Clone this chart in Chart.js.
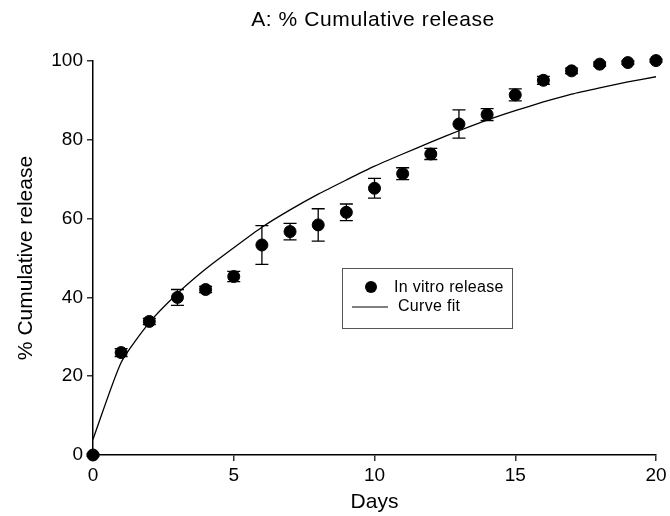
<!DOCTYPE html>
<html>
<head>
<meta charset="utf-8">
<script src="https://cdn.jsdelivr.net/npm/chart.js@4.4.0/dist/chart.umd.min.js"></script>
<style>
  html, body { margin: 0; padding: 0; background: #fff; }
  #wrap { width: 670px; height: 516px; position: relative; }
</style>
</head>
<body>
<div id="wrap"><canvas id="releaseChart"></canvas></div>
<script>
// --- data ---
const days = [0, 1, 2, 3, 4, 5, 6, 7, 8, 9, 10, 11, 12, 13, 14, 15, 16, 17, 18, 19, 20];
const releaseMean = [0, 26.0, 33.9, 40.0, 42.0, 45.3, 53.3, 56.7, 58.4, 61.6, 67.7, 71.4, 76.4, 84.0, 86.4, 91.4, 95.1, 97.5, 99.2, 99.6, 100.1];
const releaseErr = [0.3, 1.0, 0.8, 2.0, 0.8, 1.3, 4.9, 2.1, 4.1, 2.1, 2.5, 1.5, 1.4, 3.6, 1.5, 1.5, 1.0, 0.7, 0.5, 0.4, 0.3];
const curveFit = [4.0, 23.5, 33.6, 41.0, 47.2, 52.6, 57.8, 62.2, 66.2, 69.8, 73.3, 76.4, 79.4, 82.3, 85.0, 87.4, 89.6, 91.6, 93.2, 94.7, 96.0];
const xTicks = [0, 5, 10, 15, 20];
const yTicks = [0, 20, 40, 60, 80, 100];

const FONT = 'Liberation Sans, Arial, Helvetica, sans-serif';

// error bars drawn through the chart scales
const errorBars = {
    id: 'errorBars',
    afterDatasetsDraw(chart) {
        const { ctx, scales: { x, y } } = chart;
        ctx.save();
        ctx.strokeStyle = '#000';
        ctx.lineWidth = 1.3;
        days.forEach((d, i) => {
            const px = x.getPixelForValue(d);
            const top = y.getPixelForValue(releaseMean[i] + releaseErr[i]);
            const bot = y.getPixelForValue(releaseMean[i] - releaseErr[i]);
            ctx.beginPath();
            ctx.moveTo(px, top); ctx.lineTo(px, bot);
            ctx.moveTo(px - 6.5, top); ctx.lineTo(px + 6.5, top);
            ctx.moveTo(px - 6.5, bot); ctx.lineTo(px + 6.5, bot);
            ctx.stroke();
        });
        ctx.restore();
    }
};

// title + boxed legend like the original figure
const decorations = {
    id: 'decorations',
    afterDraw(chart) {
        const { ctx } = chart;
        ctx.save();
        ctx.fillStyle = '#000';
        ctx.font = '21px ' + FONT;
        ctx.letterSpacing = '0.6px';
        ctx.textAlign = 'center';
        ctx.textBaseline = 'middle';
        ctx.fillText('A: % Cumulative release', 373, 20);

        // legend box
        ctx.strokeStyle = '#555';
        ctx.lineWidth = 1;
        ctx.strokeRect(342.5, 268.5, 170, 60);
        ctx.beginPath();
        ctx.arc(371, 287, 6, 0, Math.PI * 2);
        ctx.fill();
        ctx.strokeStyle = '#000';
        ctx.lineWidth = 1.2;
        ctx.beginPath();
        ctx.moveTo(352, 307); ctx.lineTo(388, 307);
        ctx.stroke();
        ctx.font = '16px ' + FONT;
        ctx.letterSpacing = '0.3px';
        ctx.textAlign = 'left';
        ctx.fillText('In vitro release', 394, 288);
        ctx.fillText('Curve fit', 398, 307);
        ctx.restore();
    }
};

const ctx = document.getElementById('releaseChart').getContext('2d');
new Chart(ctx, {
    type: 'scatter',
    data: {
        datasets: [
            {
                label: 'In vitro release',
                data: days.map((d, i) => ({ x: d, y: releaseMean[i] })),
                backgroundColor: '#000',
                borderColor: '#000',
                pointRadius: 6,
                pointHoverRadius: 6,
                showLine: false,
                clip: false,
                order: 1
            },
            {
                label: 'Curve fit',
                data: days.map((d, i) => ({ x: d, y: curveFit[i] })),
                borderColor: '#000',
                borderWidth: 1.3,
                pointRadius: 0,
                showLine: true,
                tension: 0.2,
                fill: false,
                order: 2
            }
        ]
    },
    options: {
        responsive: true,
        maintainAspectRatio: false,
        animation: false,
        layout: { padding: { top: 61, right: 14, left: 0, bottom: 0 } },
        plugins: {
            legend: { display: false },
            title: { display: false },
            tooltip: { enabled: false }
        },
        scales: {
            x: {
                type: 'linear',
                min: 0,
                max: 20,
                afterBuildTicks: s => { s.ticks = xTicks.map(v => ({ value: v })); },
                afterFit: s => { s.height = 61; },
                border: { color: '#000', width: 1.5 },
                grid: { drawOnChartArea: false, drawTicks: true, tickLength: 6, color: '#333', lineWidth: 1.5 },
                ticks: { color: '#000', font: { family: FONT, size: 19 }, padding: 3 },
                title: { display: true, text: 'Days', color: '#000', font: { family: FONT, size: 21 }, padding: { top: 0, bottom: 1 } }
            },
            y: {
                min: 0,
                max: 100,
                afterBuildTicks: s => { s.ticks = yTicks.map(v => ({ value: v })); },
                afterFit: s => { s.width = 93; },
                border: { color: '#000', width: 1.5 },
                grid: { drawOnChartArea: false, drawTicks: true, tickLength: 6, color: '#333', lineWidth: 1.5 },
                ticks: { color: '#000', font: { family: FONT, size: 19 }, padding: 4 },
                title: { display: true, text: '% Cumulative release', color: '#000', font: { family: FONT, size: 21 }, padding: { top: 14, bottom: 0 } }
            }
        }
    },
    plugins: [errorBars, decorations]
});
</script>
</body>
</html>
